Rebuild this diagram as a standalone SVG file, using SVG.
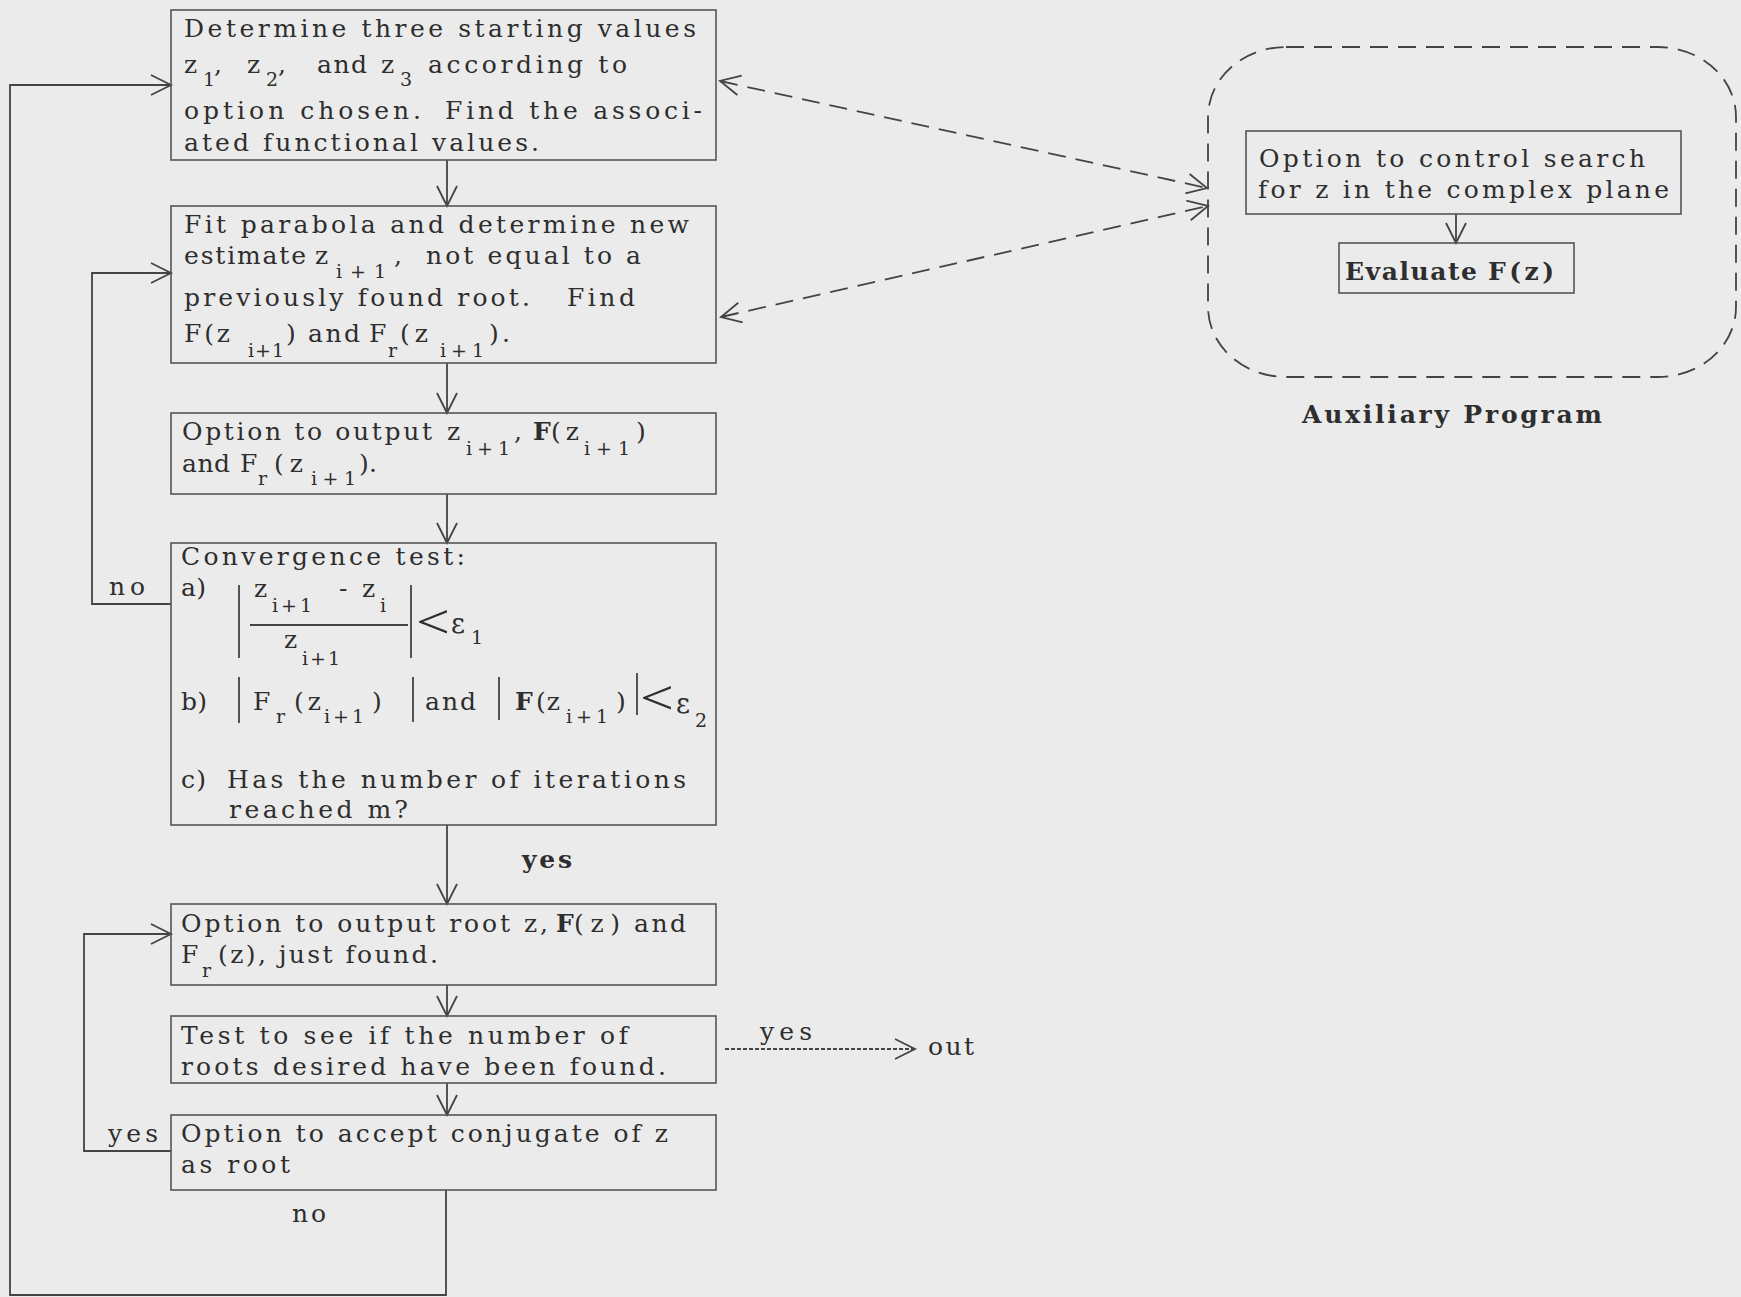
<svg xmlns="http://www.w3.org/2000/svg" width="1741" height="1297" viewBox="0 0 1741 1297">
<style>
.w{font-family:"DejaVu Serif",serif;font-size:25px;fill:#2e2e2e}
.ws{font-size:19px}
.lt{font-family:"Liberation Serif",serif;font-size:48px;fill:#2e2e2e}
.ep{font-size:27px}
.b{font-weight:bold}
.box{fill:none;stroke:#555;stroke-width:1.6}
.ln{fill:none;stroke:#444;stroke-width:1.8}
.arr{marker-end:url(#ah)}
.dsh{stroke-dasharray:18 10}
.dd{marker-start:url(#ah);marker-end:url(#ah)}
.dot{stroke-dasharray:4 2}
</style>
<defs>
<marker id="ah" markerUnits="userSpaceOnUse" markerWidth="24" markerHeight="24" viewBox="0 0 24 24" refX="21" refY="11" orient="auto-start-reverse">
<path d="M1,1 L21,11 L1,21" fill="none" stroke="#444" stroke-width="1.8"/>
</marker>
</defs>
<rect width="1741" height="1297" fill="#ebebeb"/>

<g id="connectors">
<path class="ln arr" d="M447,160 L447,206"/>
<path class="ln arr" d="M447,363 L447,413"/>
<path class="ln arr" d="M447,494 L447,543"/>
<path class="ln arr" d="M447,825 L447,904"/>
<path class="ln arr" d="M447,985 L447,1016"/>
<path class="ln arr" d="M447,1083 L447,1115"/>
<path class="ln arr" d="M171,604 L92,604 L92,273 L171,273"/>
<path class="ln arr" d="M171,1151 L84,1151 L84,934 L171,934"/>
<path class="ln arr" d="M446,1190 L446,1295 L10,1295 L10,85 L171,85"/>
<path class="ln arr dot" d="M725,1049 L915,1049"/>
<path class="ln dsh dd" d="M720,81 L1207,188"/>
<path class="ln dsh dd" d="M721,317 L1208,206"/>
<text class="w" x="109" y="595" textLength="36">no</text>
<text class="w b" x="522" y="868" textLength="50">yes</text>
<text class="w" x="108" y="1142" textLength="50">yes</text>
<text class="w" x="760" y="1040" textLength="52">yes</text>
<text class="w" x="928" y="1055" textLength="46">out</text>
<text class="w" x="292" y="1222" textLength="34">no</text>
</g>

<g id="n1">
<rect class="box" x="171" y="10" width="545" height="150"/>
<text class="w"><tspan x="184" y="37" textLength="512">Determine three starting values</tspan></text>
<text class="w"><tspan x="184" y="73">z</tspan><tspan class="ws" x="203" y="86">1</tspan><tspan x="214" y="73">,</tspan> <tspan x="247" y="73">z</tspan><tspan class="ws" x="266" y="86">2</tspan><tspan x="278" y="73">,</tspan> <tspan x="317" y="73" textLength="50">and</tspan> <tspan x="381" y="73">z</tspan><tspan class="ws" x="400" y="86">3</tspan> <tspan x="428" y="73" textLength="199">according to</tspan></text>
<text class="w"><tspan x="184" y="119" textLength="237">option chosen.</tspan> <tspan x="445" y="119" textLength="257">Find the associ-</tspan></text>
<text class="w"><tspan x="184" y="151" textLength="355">ated functional values.</tspan></text>
</g>

<g id="n2">
<rect class="box" x="171" y="206" width="545" height="157"/>
<text class="w"><tspan x="184" y="233" textLength="505">Fit parabola and determine new</tspan></text>
<text class="w"><tspan x="184" y="264" textLength="122">estimate</tspan> <tspan x="315" y="264">z</tspan><tspan class="ws" x="336" y="278" textLength="50">i+1</tspan><tspan x="394" y="264">,</tspan> <tspan x="426" y="264" textLength="215">not equal to a</tspan></text>
<text class="w"><tspan x="184" y="306" textLength="346">previously found root.</tspan> <tspan x="567" y="306" textLength="68">Find</tspan></text>
<text class="w"><tspan x="184" y="342" textLength="46">F(z</tspan><tspan class="ws" x="248" y="357" textLength="36">i+1</tspan><tspan x="286" y="342">)</tspan> <tspan x="308" y="342" textLength="52">and</tspan> <tspan x="369" y="342">F</tspan><tspan class="ws" x="388" y="357">r</tspan><tspan x="400" y="342" textLength="28">(z</tspan><tspan class="ws" x="440" y="357" textLength="44">i+1</tspan><tspan x="489" y="342" textLength="21">).</tspan></text>
</g>

<g id="n3">
<rect class="box" x="171" y="413" width="545" height="81"/>
<text class="w"><tspan x="182" y="440" textLength="250">Option to output</tspan> <tspan x="447" y="440">z</tspan><tspan class="ws" x="466" y="455" textLength="44">i+1</tspan><tspan x="514" y="440">,</tspan> <tspan class="b" x="533" y="440">F</tspan><tspan x="551" y="440" textLength="28">(z</tspan><tspan class="ws" x="584" y="455" textLength="46">i+1</tspan><tspan x="636" y="440">)</tspan></text>
<text class="w"><tspan x="182" y="472" textLength="48">and</tspan> <tspan x="240" y="472">F</tspan><tspan class="ws" x="258" y="485">r</tspan><tspan x="274" y="472" textLength="29">(z</tspan><tspan class="ws" x="311" y="485" textLength="45">i+1</tspan><tspan x="359" y="472" textLength="18">).</tspan></text>
</g>

<g id="n4">
<rect class="box" x="171" y="543" width="545" height="282"/>
<text class="w"><tspan x="181" y="565" textLength="284">Convergence test:</tspan></text>
<text class="w"><tspan x="181" y="596" textLength="25">a)</tspan> <tspan x="254" y="597">z</tspan><tspan class="ws" x="272" y="612" textLength="40">i+1</tspan> <tspan x="339" y="597">-</tspan> <tspan x="362" y="597">z</tspan><tspan class="ws" x="380" y="612">i</tspan></text>
<path class="ln" d="M250,625 L408,625 M239,585 L239,658 M411,585 L411,658"/>
<text class="w"><tspan x="284" y="648">z</tspan><tspan class="ws" x="302" y="665" textLength="38">i+1</tspan></text>
<text class="lt" transform="translate(416,638) scale(1.25,1)">&lt;</text>
<text class="w"><tspan class="ep" x="451" y="633">ε</tspan><tspan class="ws" x="471" y="644">1</tspan></text>
<path class="ln" d="M239,677 L239,723 M413,677 L413,722 M499,677 L499,720 M637,673 L637,715"/>
<text class="w"><tspan x="181" y="710" textLength="26">b)</tspan> <tspan x="253" y="710">F</tspan><tspan class="ws" x="276" y="723">r</tspan><tspan x="294" y="710" textLength="27">(z</tspan><tspan class="ws" x="324" y="723" textLength="40">i+1</tspan><tspan x="372" y="710">)</tspan> <tspan x="425" y="710" textLength="51">and</tspan> <tspan class="b" x="515" y="710">F</tspan><tspan x="536" y="710" textLength="24">(z</tspan><tspan class="ws" x="566" y="723" textLength="42">i+1</tspan><tspan x="616" y="710">)</tspan></text>
<text class="lt" transform="translate(640,714) scale(1.25,1)">&lt;</text>
<text class="w"><tspan class="ep" x="676" y="713">ε</tspan><tspan class="ws" x="695" y="727">2</tspan></text>
<text class="w"><tspan x="181" y="788" textLength="25">c)</tspan> <tspan x="227" y="788" textLength="459">Has the number of iterations</tspan></text>
<text class="w"><tspan x="229" y="818" textLength="179">reached m?</tspan></text>
</g>

<g id="n5">
<rect class="box" x="171" y="904" width="545" height="81"/>
<text class="w"><tspan x="181" y="932" textLength="367">Option to output root z,</tspan> <tspan class="b" x="556" y="932">F</tspan><tspan x="574" y="932" textLength="46">(z)</tspan> <tspan x="634" y="932" textLength="52">and</tspan></text>
<text class="w"><tspan x="181" y="963">F</tspan><tspan class="ws" x="202" y="977">r</tspan><tspan x="218" y="963" textLength="220">(z), just found.</tspan></text>
</g>

<g id="n6">
<rect class="box" x="171" y="1016" width="545" height="67"/>
<text class="w"><tspan x="181" y="1044" textLength="447">Test to see if the number of</tspan></text>
<text class="w"><tspan x="181" y="1075" textLength="485">roots desired have been found.</tspan></text>
</g>

<g id="n7">
<rect class="box" x="171" y="1115" width="545" height="75"/>
<text class="w"><tspan x="181" y="1142" textLength="487">Option to accept conjugate of z</tspan></text>
<text class="w"><tspan x="181" y="1173" textLength="109">as root</tspan></text>
</g>

<g id="aux">
<rect class="ln dsh" x="1208" y="47" width="528" height="330" rx="78" ry="70"/>
<text class="w b" x="1302" y="423" textLength="300">Auxiliary Program</text>
</g>

<g id="n8">
<rect class="box" x="1246" y="131" width="435" height="83"/>
<text class="w"><tspan x="1259" y="167" textLength="386">Option to control search</tspan></text>
<text class="w"><tspan x="1258" y="198" textLength="411">for z in the complex plane</tspan></text>
</g>
<path class="ln arr" d="M1456,214 L1456,243"/>

<g id="n9">
<rect class="box" x="1339" y="243" width="235" height="50"/>
<text class="w b"><tspan x="1345" y="280" textLength="132">Evaluate</tspan> <tspan x="1488" y="280" textLength="66">F(z)</tspan></text>
</g>
</svg>
